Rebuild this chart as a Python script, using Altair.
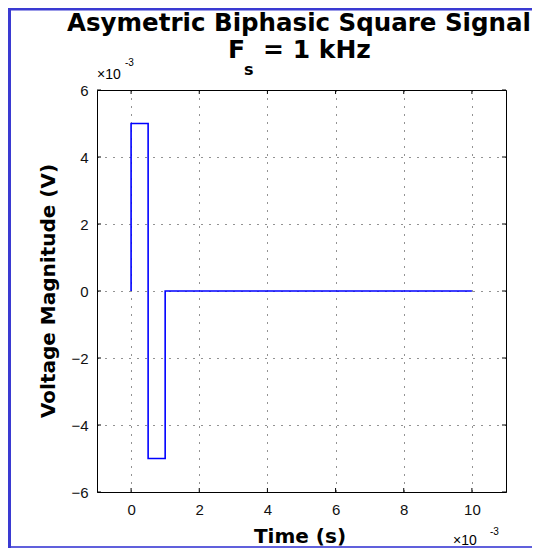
import altair as alt
import pandas as pd

# ---- data (displayed units: ms and mV, scale factor x10^-3 noted on axes) ----
t_ms = [0, 0, 0.5, 0.5, 1.0, 1.0, 10]
v_mV = [0, 5, 5, -5, -5, 0, 0]
x_ticks = [0, 2, 4, 6, 8, 10]
y_ticks = [-6, -4, -2, 0, 2, 4, 6]
x_domain = [-1, 11]
y_domain = [-6, 6]

title_line1 = "Asymetric Biphasic Square Signal"
title_F = "F"
title_sub = "s"
title_rest = "= 1 kHz"
x_title = "Time (s)"
y_title = "Voltage Magnitude (V)"
exp_base = "×10"
exp_pow = "-3"

W, H = 409, 402
FRAME = "#3a3ad2"
TITLE_FONT = "DejaVu Sans"
LABEL_FONT = "Liberation Sans"

sig = pd.DataFrame({"t": t_ms, "v": v_mV, "i": list(range(len(t_ms)))})
xt = pd.DataFrame({"t": x_ticks})
yt = pd.DataFrame({"v": y_ticks})

xscale = alt.Scale(domain=x_domain, nice=False, zero=False)
yscale = alt.Scale(domain=y_domain, nice=False, zero=False)

common_axis = dict(
    title=None, grid=True, gridDash=[1, 7], gridColor="#000000", gridOpacity=0.85,
    gridWidth=1, ticks=False, tickSize=0, domain=False,
    labelFont=LABEL_FONT, labelFontSize=15, labelColor="#111111",
)
xaxis = alt.Axis(values=x_ticks, labelPadding=10, labelAngle=0, **common_axis)
yaxis = alt.Axis(values=y_ticks, labelPadding=9, **common_axis)

line = alt.Chart(sig).mark_line(color="#0000ff", strokeWidth=1.6).encode(
    x=alt.X("t:Q", scale=xscale, axis=xaxis),
    y=alt.Y("v:Q", scale=yscale, axis=yaxis),
    order="i:Q",
)

tick_len = 4
xt_bottom = alt.Chart(xt).mark_rule(color="black").encode(
    x=alt.X("t:Q", scale=xscale), y=alt.value(H), y2=alt.value(H - tick_len))
xt_top = alt.Chart(xt).mark_rule(color="black").encode(
    x=alt.X("t:Q", scale=xscale), y=alt.value(0), y2=alt.value(tick_len))
yt_left = alt.Chart(yt).mark_rule(color="black").encode(
    y=alt.Y("v:Q", scale=yscale), x=alt.value(0), x2=alt.value(tick_len))
yt_right = alt.Chart(yt).mark_rule(color="black").encode(
    y=alt.Y("v:Q", scale=yscale), x=alt.value(W), x2=alt.value(W - tick_len))

one = pd.DataFrame({"k": [0]})

def vrule(x, y1, y2, color, width):
    return alt.Chart(one).mark_rule(color=color, strokeWidth=width).encode(
        x=alt.value(x), y=alt.value(y1), y2=alt.value(y2))

def hrule(y, x1, x2, color, width):
    return alt.Chart(one).mark_rule(color=color, strokeWidth=width).encode(
        y=alt.value(y), x=alt.value(x1), x2=alt.value(x2))

def label(txt, x, y, size, bold=False, align="left", font=TITLE_FONT, angle=0, baseline="alphabetic"):
    kw = dict(fontSize=size, font=font, align=align, baseline=baseline, color="black",
              fontWeight="bold" if bold else "normal")
    if angle:
        kw["angle"] = angle
    return alt.Chart(pd.DataFrame({"s": [txt]})).mark_text(**kw).encode(
        text="s:N", x=alt.value(x), y=alt.value(y))

frame = [
    vrule(-87.5, -82, 460, FRAME, 3),
    hrule(-81, -89, 436, FRAME, 3),
    hrule(457, -86, 436, "#6060dc", 2),
]

texts = [
    label(title_line1, 202, -59, 24.5, bold=True, align="center"),
    label(title_F, 131, -32, 25, bold=True),
    label(title_sub, 147, -15, 16, bold=True),
    label(title_rest, 166, -32, 25, bold=True),
    label(x_title, 203, 453, 20, bold=True, align="center"),
    label(y_title, -42, 201, 20, bold=True, align="center", angle=270),
    label(exp_base, 0, -11, 14, font=LABEL_FONT),
    label(exp_pow, 28, -24, 10, font=LABEL_FONT),
    label(exp_base, 356, 455, 14, font=LABEL_FONT),
    label(exp_pow, 393, 445, 10, font=LABEL_FONT),
]

chart = alt.layer(
    *frame, line, xt_bottom, xt_top, yt_left, yt_right, *texts
).properties(
    width=W, height=H,
    autosize=alt.AutoSizeParams(type="none"),
    padding={"left": 89, "top": 82, "right": 26, "bottom": 56},
    background="white",
).configure_view(stroke="black", strokeWidth=1)

chart.save("out.html", embed_options={"renderer": "svg", "actions": False})
